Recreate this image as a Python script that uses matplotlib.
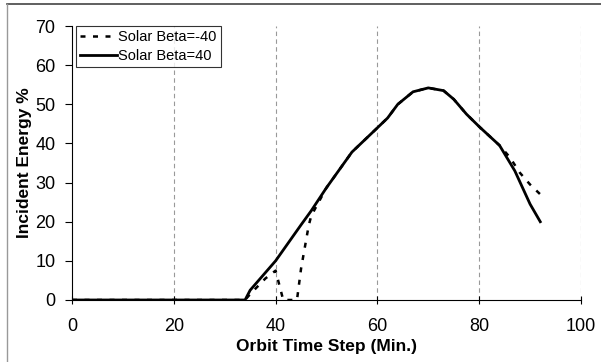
import matplotlib
matplotlib.use("Agg")
from matplotlib import pyplot as plt
from matplotlib.lines import Line2D

# data
t_pos = [0, 34, 35, 40, 45, 47, 50, 55, 60, 62, 64, 67, 70, 73, 75, 77.5, 80, 84, 87, 90, 92]
e_pos = [0, 0, 2.5, 10, 19.2, 22.8, 28.7, 37.8, 44, 46.5, 50, 53.2, 54.2, 53.5, 51.3, 47.5, 44.3, 39.5, 33, 24.5, 20]

t_neg = [0, 34, 35, 38, 40, 41.5, 44.2, 45, 46.5, 47, 50, 55, 60, 62, 64, 67, 70, 73, 75, 77.5, 80, 84, 86, 88, 90, 92]
e_neg = [0, 0, 1.5, 5.5, 7.5, 0, 0, 8, 19, 21.5, 28.7, 37.8, 44, 46.5, 50, 53.2, 54.2, 53.5, 51.3, 47.5, 44.3, 39.5, 36.5, 32.5, 29.5, 27]

xticks = [0, 20, 40, 60, 80, 100]
yticks = [0, 10, 20, 30, 40, 50, 60, 70]

plt.rcParams['font.family'] = ['Liberation Sans', 'DejaVu Sans']

fig = plt.figure(figsize=(6.01, 3.62), dpi=100)
ax = fig.add_axes([0.1198, 0.1713, 0.8469, 0.7567])

ax.plot(t_neg, e_neg, color="black", linestyle=(0, (2, 3)), linewidth=1.8, label="Solar Beta=-40")
ax.plot(t_pos, e_pos, color="black", linewidth=2.0, label="Solar Beta=40")

ax.set_xlim(0, 100)
ax.set_ylim(0, 70)
ax.set_xticks(xticks)
ax.set_yticks(yticks)
ax.tick_params(axis="x", direction="inout", length=6, labelsize=13, pad=10)
ax.tick_params(axis="y", direction="out", length=5, labelsize=13, pad=7)

for x in xticks[1:]:
    ax.axvline(x, color="#999999", linestyle=(0, (4, 3)), linewidth=0.8, zorder=0)

ax.spines["top"].set_visible(False)
ax.spines["right"].set_visible(False)

ax.set_xlabel("Orbit Time Step (Min.)", fontsize=12.5, fontweight="bold", labelpad=3)
ax.set_ylabel("Incident Energy %", fontsize=12.5, fontweight="bold", labelpad=2)

leg = ax.legend(loc="upper left", bbox_to_anchor=(0.008, 1.0), fontsize=10.5, frameon=True,
                fancybox=False, edgecolor="black", borderpad=0.3, handlelength=2.5,
                handletextpad=0.1, labelspacing=0.3, borderaxespad=0.0)
leg.get_frame().set_linewidth(0.8)

# page frame lines like the scanned original
fig.add_artist(Line2D([0.012, 1.0], [0.988, 0.988], color="#444444", linewidth=1.2))
fig.add_artist(Line2D([0.012, 0.012], [0.0, 0.988], color="#999999", linewidth=1.0))

fig.savefig("out.png", dpi=100)
